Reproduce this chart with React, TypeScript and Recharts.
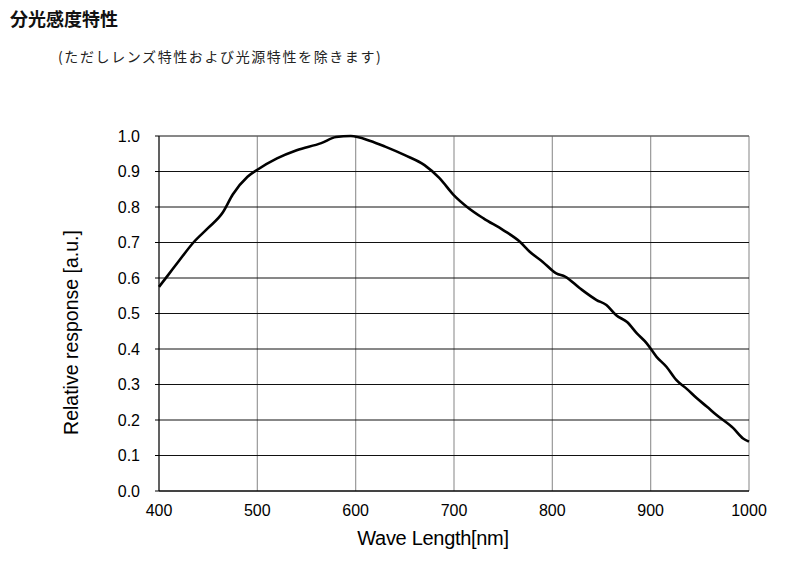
import React from 'react';
import { LineChart, Line, XAxis, YAxis, CartesianGrid, ReferenceLine } from 'recharts';

// wavelength [nm] and relative response
const wavelengths = [
  400, 410, 420, 435, 450, 465, 475, 490, 500, 520, 540, 565, 580, 595, 615, 630, 650, 670, 685,
  700, 713, 730, 750, 767, 777, 790, 804, 813, 828, 845, 855, 865, 876, 886, 896, 906, 916, 926,
  937, 947, 957, 967, 984, 994, 1000,
];
const response = [
  0.575, 0.611, 0.647, 0.7, 0.741, 0.785, 0.835, 0.885, 0.905, 0.937, 0.96, 0.98, 0.997, 1.0,
  0.986, 0.97, 0.946, 0.918, 0.882, 0.833, 0.801, 0.768, 0.735, 0.702, 0.674, 0.646, 0.613, 0.604,
  0.571, 0.538, 0.524, 0.495, 0.476, 0.444, 0.416, 0.378, 0.35, 0.313, 0.287, 0.261, 0.238, 0.214,
  0.177, 0.148, 0.139,
];
const xTicks = [400, 500, 600, 700, 800, 900, 1000];
const yTicks = [0, 0.1, 0.2, 0.3, 0.4, 0.5, 0.6, 0.7, 0.8, 0.9, 1.0];

const data = wavelengths.map((nm, i) => ({ nm, value: response[i] }));

const font = '"Liberation Sans", Arial, sans-serif';
const jpFont = '"Noto Sans CJK JP", sans-serif';

export default function App() {
  return (
    <div style={{ position: 'absolute', left: 0, top: 0, width: 808, height: 562, background: 'white' }}>
      <div style={{
        position: 'absolute', left: 10, top: 5, fontFamily: jpFont, fontWeight: 700,
        fontSize: 18, color: '#111'
      }}>
        分光感度特性
      </div>
      <div style={{
        position: 'absolute', left: 58, top: 46, fontFamily: jpFont, fontSize: 14,
        letterSpacing: 1.6, color: '#222'
      }}>
        (ただしレンズ特性および光源特性を除きます)
      </div>

      <LineChart
        width={808}
        height={562}
        data={data}
        margin={{ top: 136, right: 59, bottom: 41, left: 99 }}
      >
        <CartesianGrid horizontal={false} vertical stroke="#999" strokeWidth={1.2} />
        <CartesianGrid horizontal vertical={false} stroke="#111" strokeWidth={1} />
        <ReferenceLine y={1} stroke="#888" strokeWidth={1.2} />
        <XAxis
          dataKey="nm"
          type="number"
          domain={[400, 1000]}
          ticks={xTicks}
          height={30}
          stroke="#000"
          tickLine={false}
          tickSize={0}
          tickMargin={14}
          tick={{ fill: '#000', fontSize: 16, fontFamily: font }}
        />
        <YAxis
          type="number"
          domain={[0, 1]}
          ticks={yTicks}
          width={60}
          stroke="#000"
          tickSize={4}
          tickMargin={15}
          tickFormatter={(v: number) => v.toFixed(1)}
          tick={{ fill: '#000', fontSize: 16, fontFamily: font }}
        />
        <Line
          type="monotone"
          dataKey="value"
          stroke="#000"
          strokeWidth={2.6}
          dot={false}
          isAnimationActive={false}
        />
      </LineChart>

      <div style={{
        position: 'absolute', left: 333, width: 200, top: 527, textAlign: 'center',
        fontFamily: font, fontSize: 20, letterSpacing: -0.3, color: '#000'
      }}>
        Wave Length[nm]
      </div>
      <div style={{
        position: 'absolute', left: 71, top: 333, width: 260, marginLeft: -130, marginTop: -12,
        textAlign: 'center', transform: 'rotate(-90deg)', fontFamily: font, fontSize: 19.5,
        color: '#000', whiteSpace: 'nowrap'
      }}>
        Relative response [a.u.]
      </div>
    </div>
  );
}
